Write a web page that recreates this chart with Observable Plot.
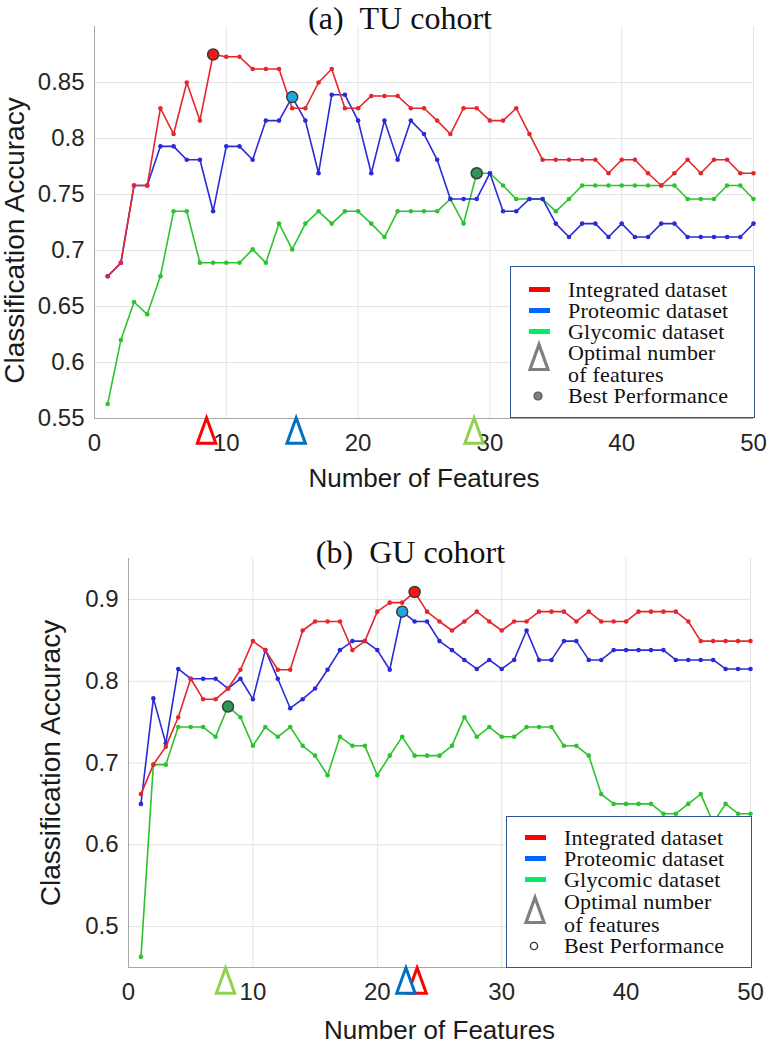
<!DOCTYPE html>
<html><head><meta charset="utf-8">
<script src="https://cdn.jsdelivr.net/npm/d3@7"></script>
<script src="https://cdn.jsdelivr.net/npm/@observablehq/plot@0.6"></script>
<style>
body{margin:0;background:#fff;}
#wrap{position:relative;width:768px;height:1050px;overflow:hidden;background:#fff;}
.panel{position:absolute;left:0;}
.legend{position:absolute;border:1.5px solid #2f5597;background:#fff;box-sizing:border-box;font-family:"Liberation Serif","Times New Roman",serif;font-size:22px;color:#111;}
.row{position:absolute;left:0;right:0;height:21px;line-height:21px;}
.row .t{position:absolute;left:57px;white-space:nowrap;letter-spacing:0.2px;}
.sw{position:absolute;left:18px;width:21px;height:5px;top:8px;}
.sym{position:absolute;overflow:visible;}
</style></head><body><div id="wrap"></div>
<script>
// ---------- data ----------
const features = [1,2,3,4,5,6,7,8,9,10,11,12,13,14,15,16,17,18,19,20,21,22,23,24,25,26,27,28,29,30,31,32,33,34,35,36,37,38,39,40,41,42,43,44,45,46,47,48,49,50];
const xTicks = [0,10,20,30,40,50];
const xDomain = [0,50];
const seriesNames = ["Integrated dataset","Proteomic dataset","Glycomic dataset"];

// (a) TU cohort
const tuIntegrated = [.677,.689,.758,.758,.827,.804,.850,.816,.875,.873,
  .873,.862,.862,.862,.827,.827,.850,.862,.827,.827,
  .838,.838,.838,.827,.827,.816,.804,.827,.827,.816,
  .816,.827,.804,.781,.781,.781,.781,.781,.769,.781,
  .781,.769,.758,.769,.781,.769,.781,.781,.769,.769];
const tuProteomic = [.677,.689,.758,.758,.793,.793,.781,.781,.735,.793,
  .793,.781,.816,.816,.837,.816,.769,.839,.839,.816,
  .769,.816,.781,.816,.804,.781,.746,.746,.746,.769,
  .735,.735,.746,.746,.724,.712,.724,.724,.712,.724,
  .712,.712,.724,.724,.712,.712,.712,.712,.712,.724];
const tuGlycomic = [.563,.620,.654,.643,.677,.735,.735,.689,.689,.689,
  .689,.701,.689,.724,.701,.724,.735,.724,.735,.735,
  .724,.712,.735,.735,.735,.735,.746,.724,.769,.769,
  .758,.746,.746,.746,.735,.746,.758,.758,.758,.758,
  .758,.758,.758,.758,.746,.746,.746,.758,.758,.746];
const tuYDomain = [0.55,0.9];
const tuYTicks = [0.55,0.6,0.65,0.7,0.75,0.8,0.85];
const tuBestX = [9,15,29];
const tuBestY = [0.875,0.837,0.769];
const tuOptimalX = [8.5,15.3,28.8];

// (b) GU cohort
const guIntegrated = [.662,.698,.720,.756,.803,.778,.778,.791,.814,.849,
  .838,.814,.814,.862,.873,.873,.873,.838,.849,.885,
  .896,.896,.909,.885,.873,.862,.873,.885,.873,.862,
  .873,.873,.885,.885,.885,.873,.885,.873,.873,.873,
  .885,.885,.885,.885,.873,.849,.849,.849,.849,.849];
const guProteomic = [.650,.779,.724,.815,.803,.803,.803,.791,.803,.778,
  .838,.803,.767,.778,.791,.814,.838,.849,.849,.838,
  .814,.885,.873,.873,.849,.838,.826,.815,.826,.815,
  .826,.862,.826,.826,.849,.849,.826,.826,.838,.838,
  .838,.838,.838,.826,.826,.826,.826,.815,.815,.815];
const guGlycomic = [.463,.698,.698,.744,.744,.744,.732,.769,.756,.721,
  .744,.732,.744,.721,.709,.685,.732,.721,.721,.685,
  .709,.732,.709,.709,.709,.721,.756,.732,.744,.732,
  .732,.744,.744,.744,.721,.721,.709,.662,.650,.650,
  .650,.650,.638,.638,.650,.662,.627,.650,.638,.638];
const guYDomain = [0.45,0.95];
const guYTicks = [0.5,0.6,0.7,0.8,0.9];
const guBestX = [23,22,8];
const guBestY = [0.909,0.885,0.769];
const guOptimalX = [23.2,22.3,7.8];

// ---------- styles ----------
const lineColors = ["#e5262c","#2a2ad8","#2cc42c"];
const bestColors = ["#ff1414","#1ca8e2","#2a9a52"];
const triColors = ["#ff0000","#0070c0","#92d050"];
const swatchColors = ["#ff0000","#0066ff","#00ee66"];
const sans = "'Liberation Sans', Arial, sans-serif";
const serif = "'Liberation Serif', 'Times New Roman', serif";

const tallTriangle = {
  draw(context, size) {
    const r = Math.sqrt(size / Math.PI);
    context.moveTo(0, -1.1 * r);
    context.lineTo(0.8 * r, 1.1 * r);
    context.lineTo(-0.8 * r, 1.1 * r);
    context.closePath();
  }
};

function makePanel(cfg) {
  const seriesData = cfg.series.map((vals, s) => vals.map((v, i) => ({x: features[i], y: v, s})));
  const best = cfg.bestX.map((x, i) => ({x, y: cfg.bestY[i], c: bestColors[i]}));
  const opt = cfg.optX.map((x, i) => ({x, c: triColors[i]}));
  const marks = [
    Plot.gridX(xTicks, {stroke: "#e4e4e4", strokeOpacity: 1}),
    Plot.gridY(cfg.yTicks, {stroke: "#e4e4e4", strokeOpacity: 1}),
    Plot.ruleX([xDomain[0]], {stroke: "#a8a8a8"}),
    Plot.ruleY([cfg.yDomain[0]], {stroke: "#a8a8a8"}),
    Plot.axisX(xTicks, {tickSize: 0, tickPadding: 15, fontSize: 24, label: null, fill: "#262626"}),
    Plot.axisY(cfg.yTicks, {tickSize: 0, tickPadding: 10, fontSize: 24, label: null, fill: "#262626", tickFormat: d => String(d)})
  ];
  // draw glycomic, proteomic, integrated (integrated on top)
  [2,1,0].forEach(s => {
    marks.push(Plot.line(seriesData[s], {x: "x", y: "y", stroke: lineColors[s], strokeWidth: 1.6}));
    marks.push(Plot.dot(seriesData[s], {x: "x", y: "y", r: 2.3, fill: lineColors[s]}));
  });
  marks.push(Plot.dot(best, {x: "x", y: "y", r: 5.5, fill: "c", stroke: "#3a3a3a", strokeWidth: 1.5}));
  marks.push(Plot.dot(opt, {x: "x", y: () => cfg.yDomain[0], dy: cfg.triDy, r: 11.5, symbol: tallTriangle,
    stroke: "c", fill: "white", strokeWidth: 3, strokeLinejoin: "miter"}));
  marks.push(Plot.text([cfg.title], {frameAnchor: "top", lineAnchor: "middle", dx: cfg.titleDx, dy: cfg.titleDy, fontSize: 32, fontFamily: serif, fill: "#111"}));
  marks.push(Plot.text(["Classification Accuracy"], {frameAnchor: "left", textAnchor: "middle", lineAnchor: "middle", rotate: -90, dx: cfg.ylabDx, dy: cfg.ylabDy, fontSize: 28, fontFamily: sans, fill: "#1a1a1a"}));
  marks.push(Plot.text(["Number of Features"], {frameAnchor: "bottom", lineAnchor: "middle", dy: cfg.xlabDy, fontSize: 26, fontFamily: sans, fill: "#1a1a1a"}));
  return Plot.plot({
    width: 768, height: cfg.h,
    marginTop: cfg.mt, marginBottom: cfg.mb, marginLeft: cfg.ml, marginRight: cfg.mr,
    x: {domain: xDomain},
    y: {domain: cfg.yDomain},
    color: {type: "identity"},
    style: {fontFamily: sans, fontSize: "24px", color: "#262626", background: "#fff", overflow: "visible"},
    marks
  });
}

function makeLegend(box, rows, triCenter, hollowDot, dotColor) {
  const el = document.createElement("div");
  el.className = "legend";
  Object.assign(el.style, {left: box[0] + "px", top: box[1] + "px", width: box[2] + "px", height: box[3] + "px"});
  const labels = [seriesNames[0], seriesNames[1], seriesNames[2], "Optimal number", "of features", "Best Performance"];
  labels.forEach((lab, i) => {
    const row = document.createElement("div");
    row.className = "row";
    row.style.top = (rows[i] - 10.5 - 1.5) + "px";
    if (i < 3) {
      const sw = document.createElement("div");
      sw.className = "sw";
      sw.style.background = swatchColors[i];
      row.appendChild(sw);
    }
    const t = document.createElement("span");
    t.className = "t";
    t.textContent = lab;
    row.appendChild(t);
    el.appendChild(row);
  });
  const ns = "http://www.w3.org/2000/svg";
  const tri = document.createElementNS(ns, "svg");
  tri.setAttribute("class", "sym");
  tri.setAttribute("width", 24); tri.setAttribute("height", 30);
  tri.style.left = (29 - 12 - 1.5) + "px"; tri.style.top = (triCenter - 15 - 1.5) + "px";
  tri.innerHTML = '<path d="M12,2.5 L21,27.5 L3,27.5 Z" fill="white" stroke="#7f7f7f" stroke-width="3.2" stroke-linejoin="miter"/>';
  el.appendChild(tri);
  const dot = document.createElementNS(ns, "svg");
  dot.setAttribute("class", "sym");
  dot.setAttribute("width", 14); dot.setAttribute("height", 14);
  dot.style.left = (28 - 7 - 1.5) + "px"; dot.style.top = (rows[5] - 7 - 1.5) + "px";
  dot.innerHTML = hollowDot
    ? '<circle cx="7" cy="7" r="3.6" fill="white" stroke="#333" stroke-width="1.4"/>'
    : '<circle cx="7" cy="7" r="4" fill="' + dotColor + '" stroke="#555" stroke-width="1.2"/>';
  el.appendChild(dot);
  return el;
}

const wrap = document.getElementById("wrap");

const top1 = document.createElement("div");
top1.className = "panel"; top1.style.top = "0px";
top1.appendChild(makePanel({
  h: 500, mt: 26, mb: 82, ml: 94, mr: 15,
  yDomain: tuYDomain, yTicks: tuYTicks,
  series: [tuIntegrated, tuProteomic, tuGlycomic],
  bestX: tuBestX, bestY: tuBestY, optX: tuOptimalX,
  title: "(a)\u00a0\u00a0TU cohort", titleDx: -24, titleDy: -8,
  ylabDx: -79, ylabDy: 18, xlabDy: 60, triDy: 12
}));
wrap.appendChild(top1);

const bot = document.createElement("div");
bot.className = "panel"; bot.style.top = "530px";
bot.appendChild(makePanel({
  h: 520, mt: 28, mb: 83, ml: 128, mr: 18,
  yDomain: guYDomain, yTicks: guYTicks,
  series: [guIntegrated, guProteomic, guGlycomic],
  bestX: guBestX, bestY: guBestY, optX: guOptimalX,
  title: "(b)\u00a0\u00a0GU cohort", titleDx: -29, titleDy: -6,
  ylabDx: -77, ylabDy: 0, xlabDy: 63, triDy: 13
}));
wrap.appendChild(bot);

wrap.appendChild(makeLegend([510, 266, 245, 152], [24, 45, 66, 87, 109, 130], 91, false, "#808080"));
wrap.appendChild(makeLegend([506, 816, 246, 152], [22, 43, 64, 86, 109, 130], 94, true, null));
</script></body></html>
